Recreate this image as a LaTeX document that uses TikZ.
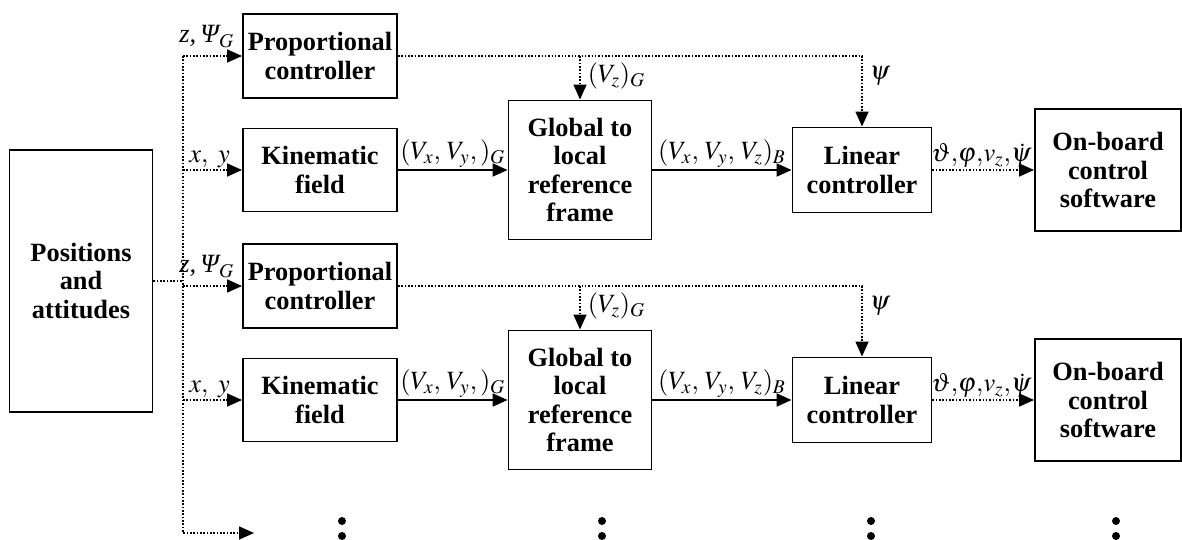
\documentclass[tikz,border=0pt]{standalone}
\usepackage{mathptmx}
\usepackage{fontspec}
\setmainfont{Liberation Serif}
\usetikzlibrary{arrows.meta}

\begin{document}
\begin{tikzpicture}[x=0.02cm, y=-0.02cm,
  font=\fontsize{15}{16}\selectfont,
  blk/.style={draw, line width=1.1pt, align=center, inner sep=0pt,
              font=\fontsize{15}{16}\selectfont\bfseries},
  sig/.style={line width=1.1pt, -{Triangle[length=0.3cm, width=0.26cm]}},
  aux/.style={line width=0.9pt, densely dotted,
              -{Triangle[length=0.3cm, width=0.26cm]}},
  lbl/.style={inner sep=1pt}]
  \useasboundingbox (0,0) rectangle (1182,540);

  \node[blk, minimum width=2.86cm, minimum height=5.24cm] (pos) at (81,281)
    {Positions\\and\\attitudes};
  \coordinate (top) at (183,56);
  \coordinate (bot) at (183,533);
  \coordinate (more) at (254,533);

  % one control chain per vehicle
  \foreach \r/\dy in {1/0, 2/230}{
    \node[blk, minimum width=3.08cm, minimum height=1.68cm] (prop\r) at (320,56+\dy)
      {Proportional\\controller};
    \node[blk, minimum width=3.08cm, minimum height=1.66cm] (kin\r) at (320,170+\dy)
      {Kinematic\\field};
    \node[blk, minimum width=2.86cm, minimum height=2.78cm] (glob\r) at (580,170+\dy)
      {Global to\\local\\reference\\frame};
    \node[blk, minimum width=2.78cm, minimum height=1.7cm] (lin\r) at (862,170+\dy)
      {Linear\\controller};
    \node[blk, minimum width=2.92cm, minimum height=2.44cm] (ob\r) at (1108,170+\dy)
      {On-board\\control\\software};

    \draw[aux] (prop\r -| top) -- node[lbl, above, pos=0.4, yshift=3pt]
      {$\textit{z,\,Ψ}_G$} (prop\r);
    \draw[aux] (kin\r -| top) -- node[lbl, above, pos=0.45] {$x,\ y$} (kin\r);
    \draw[sig] (kin\r) -- node[lbl, above] {$(V_x,\, V_y,)_G$} (glob\r);
    \draw[sig] (glob\r) -- node[lbl, above] {$(V_x,\, V_y,\, V_z)_B$} (lin\r);
    \draw[aux] (lin\r) -- node[lbl, above, pos=0.48]
      {$\vartheta{,}\varphi{,}v_z{,}\dot{\psi}$} (ob\r);
    \draw[aux] (prop\r) -| node[pos=0.64, right, inner sep=4pt] {$\psi$} (lin\r);
    \draw[aux] (prop\r.east -| glob\r) -- node[pos=0.45, right, inner sep=4pt]
      {$(V_z)_G$} (glob\r);
  }

  % shared trunk from the measurements
  \draw[aux, -] (pos) -- (pos -| top);
  \draw[aux] (top) -- (bot) -- (more);

  \foreach \x in {342, 602, 871, 1116}{
    \fill (\x,521) circle[radius=0.08cm];
    \fill (\x,536) circle[radius=0.08cm];
  }
\end{tikzpicture}
\end{document}
